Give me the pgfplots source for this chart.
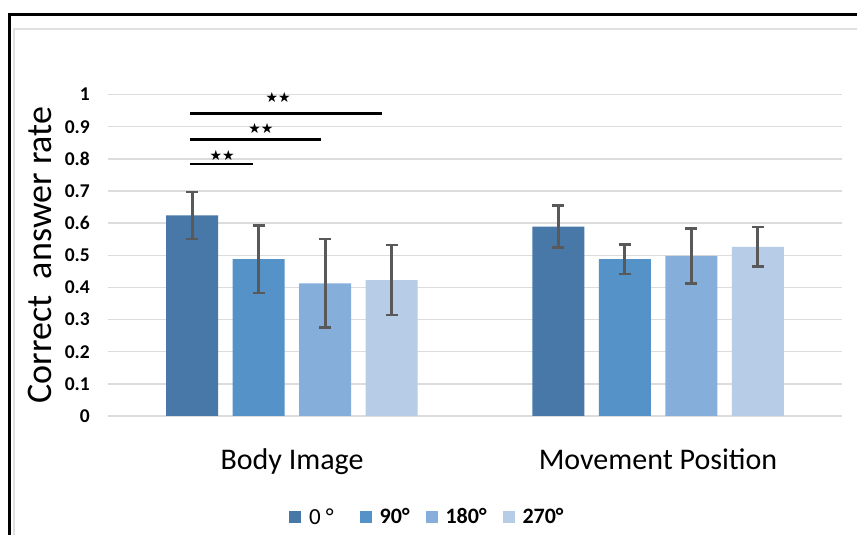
\documentclass[border=0pt]{standalone}
\usepackage{fontspec}
\setmainfont{Carlito}
\newfontfamily\symfont{DejaVu Sans}
\usepackage{pgfplots}
\pgfplotsset{compat=1.18}
\definecolor{cA}{HTML}{4878A8}
\definecolor{cB}{HTML}{5592C8}
\definecolor{cC}{HTML}{86AEDB}
\definecolor{cD}{HTML}{B7CCE7}
\definecolor{errc}{HTML}{595959}
\definecolor{gridc}{HTML}{DCDCDC}
\begin{document}
\begin{tikzpicture}[x=1pt,y=1pt]
\useasboundingbox (0,0) rectangle (857,535);
\fill[white] (0,0) rectangle (857,535);
\draw[black!12, line width=2pt] (14,0) -- (14,506) -- (857,506);
\draw[black, line width=3pt] (9,0) -- (9,520) -- (857,520);
\node[rotate=90, font=\fontsize{36}{38}\selectfont] at (40,280) {Correct\ \ answer rate};
\begin{axis}[
  at={(108pt,119pt)}, anchor=south west, scale only axis,
  width=734pt, height=321.4pt,
  xmin=-0.5027, xmax=1.5027, ymin=0, ymax=1,
  ybar=14.5pt, bar width=52pt,
  axis line style={draw=none},
  ytick={0,0.1,0.2,0.3,0.4,0.5,0.6,0.7,0.8,0.9,1},
  ymajorgrids, grid style={gridc, line width=1.5pt},
  major tick length=0pt,
  xtick={0,1}, xticklabels={Body Image, Movement Position},
  xticklabel style={anchor=base, yshift=-54pt, font=\fontsize{30}{32}\selectfont},
  yticklabel style={anchor=east, inner sep=0pt, xshift=-18pt, font=\bfseries\fontsize{19.5}{21}\selectfont},
  /pgf/number format/assume math mode=true,
  clip=false,
  legend style={at={(axis description cs:0.435,-0.314)}, anchor=center, draw=none,
    legend columns=4, font=\bfseries\fontsize{22}{24}\selectfont,
    /tikz/every even column/.append style={column sep=14pt}},
  legend image code/.code={\fill[#1] (0pt,-6pt) rectangle (12pt,6pt);},
  error bars/error bar style={errc, line width=2.8pt},
  error bars/error mark options={errc, rotate=90, mark size=6pt, line width=2.8pt},
]
\addplot[fill=cA, draw=none, error bars/.cd, y dir=both, y explicit]
  coordinates {(0,0.624) +- (0,0.073) (1,0.589) +- (0,0.065)};
\addplot[fill=cB, draw=none, error bars/.cd, y dir=both, y explicit]
  coordinates {(0,0.488) +- (0,0.105) (1,0.488) +- (0,0.046)};
\addplot[fill=cC, draw=none, error bars/.cd, y dir=both, y explicit]
  coordinates {(0,0.413) +- (0,0.138) (1,0.498) +- (0,0.086)};
\addplot[fill=cD, draw=none, error bars/.cd, y dir=both, y explicit]
  coordinates {(0,0.423) +- (0,0.109) (1,0.526) +- (0,0.062)};
\legend{{\mdseries\fontsize{23}{24}\selectfont\hspace*{6pt}0 °\hspace*{10pt}},{\hspace*{6pt}90°},{\hspace*{6pt}180°},{\hspace*{6pt}270°}}
\draw[black, line width=2.7pt] (axis cs:-0.279,0.942) -- (axis cs:0.246,0.942);
\draw[black, line width=2.7pt] (axis cs:-0.279,0.861) -- (axis cs:0.079,0.861);
\draw[black, line width=2.7pt] (axis cs:-0.279,0.784) -- (axis cs:-0.107,0.784);
\node[font=\symfont\fontsize{14}{14}\selectfont, inner sep=0pt] at (axis cs:-0.038,0.992) {★★};
\node[font=\symfont\fontsize{14}{14}\selectfont, inner sep=0pt] at (axis cs:-0.085,0.895) {★★};
\node[font=\symfont\fontsize{14}{14}\selectfont, inner sep=0pt] at (axis cs:-0.191,0.812) {★★};
\end{axis}
\end{tikzpicture}
\end{document}
